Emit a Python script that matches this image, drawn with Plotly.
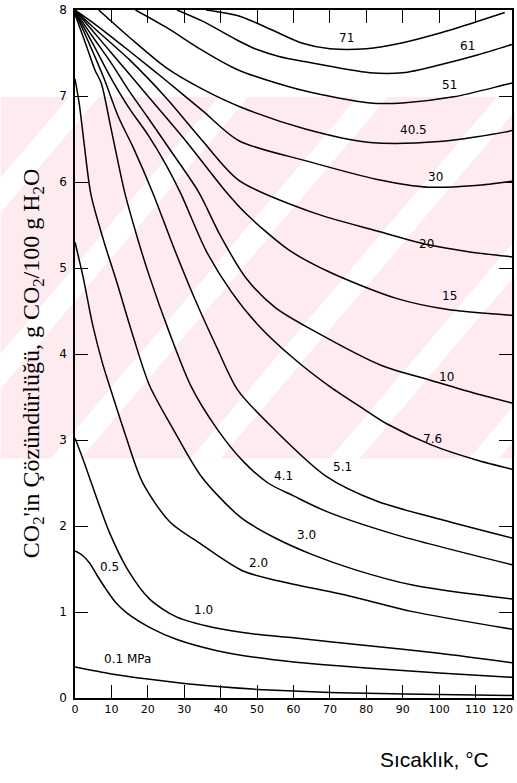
import plotly.graph_objects as go

# ---------------- data ----------------
x_ticks = [0, 10, 20, 30, 40, 50, 60, 70, 80, 90, 100, 110, 120]
y_ticks = [0, 1, 2, 3, 4, 5, 6, 7, 8]

t_01 = [0, 10, 20, 30, 40, 50, 60, 70, 80, 100, 120]
s_01 = [0.36, 0.28, 0.22, 0.17, 0.13, 0.10, 0.08, 0.065, 0.055, 0.04, 0.03]

t_05 = [0, 2, 4, 6, 8.6, 11, 14.2, 21, 28, 39, 50, 60, 80, 100, 120]
s_05 = [1.71, 1.66, 1.57, 1.43, 1.26, 1.12, 0.99, 0.81, 0.68, 0.55, 0.47, 0.42, 0.35, 0.29, 0.24]

t_10 = [0, 2, 4.5, 7, 9.5, 14.5, 20.5, 28, 38, 50, 60, 80, 100, 120]
s_10 = [3.02, 2.80, 2.50, 2.20, 1.92, 1.49, 1.15, 0.94, 0.82, 0.74, 0.70, 0.61, 0.52, 0.41]

t_20 = [0, 2.2, 4.9, 7.5, 10, 13.6, 18.5, 26, 34.6, 46, 56, 75, 92, 120]
s_20 = [5.30, 4.90, 4.33, 3.90, 3.56, 3.09, 2.51, 2.05, 1.79, 1.48, 1.36, 1.19, 1.01, 0.80]

t_30 = [0, 1.2, 2.5, 4.4, 8, 11.3, 16, 20.5, 27.3, 34.8, 45.5, 55, 65, 77, 93, 120]
s_30 = [7.20, 6.90, 6.45, 5.85, 5.30, 4.86, 4.20, 3.63, 3.10, 2.57, 2.10, 1.86, 1.67, 1.49, 1.31, 1.15]

t_41 = [0, 3, 5.5, 7.2, 10, 13.7, 17, 20.3, 26, 31.8, 39, 46, 53, 60, 69, 88, 120]
s_41 = [7.95, 7.60, 7.30, 7.15, 6.60, 5.87, 5.37, 4.92, 4.24, 3.63, 3.13, 2.76, 2.50, 2.35, 2.17, 1.90, 1.55]

t_51 = [0, 4, 8, 12, 16, 21.4, 27, 33, 39, 44.7, 54.8, 68.9, 82.8, 101, 120]
s_51 = [7.97, 7.60, 7.20, 6.75, 6.40, 5.87, 5.25, 4.63, 4.07, 3.58, 3.12, 2.58, 2.29, 2.07, 1.86]

t_76 = [0, 5, 10, 15, 20, 25, 29, 36, 43, 50, 60, 70, 80, 86, 98, 110, 120]
s_76 = [7.98, 7.60, 7.20, 6.85, 6.55, 6.20, 5.87, 5.20, 4.72, 4.35, 3.95, 3.62, 3.34, 3.18, 2.94, 2.77, 2.66]

t_100 = [0, 5, 10, 15, 20, 27, 34, 40, 47, 55, 66, 84, 98, 110, 120]
s_100 = [7.99, 7.68, 7.38, 7.05, 6.75, 6.32, 5.88, 5.37, 4.88, 4.54, 4.26, 3.87, 3.69, 3.54, 3.43]

t_150 = [0, 5, 10, 20, 30, 41.4, 47, 58.7, 70, 88, 102, 120]
s_150 = [8.0, 7.75, 7.50, 7.00, 6.50, 5.89, 5.63, 5.21, 4.95, 4.65, 4.52, 4.45]

t_200 = [0, 5, 15, 25, 35, 45, 65, 83, 97, 108, 120]
s_200 = [8.0, 7.80, 7.42, 6.98, 6.48, 6.02, 5.65, 5.43, 5.27, 5.19, 5.13]

t_300 = [0, 5, 15, 25, 35, 45, 64, 83, 97, 110, 120]
s_300 = [8.0, 7.85, 7.52, 7.18, 6.83, 6.48, 6.24, 6.03, 5.94, 5.96, 6.01]

t_405 = [6.5, 15, 25, 35, 45.6, 63, 81, 100, 118, 120]
s_405 = [8.0, 7.68, 7.33, 7.08, 6.87, 6.62, 6.46, 6.47, 6.58, 6.60]

t_510 = [16.6, 25, 35, 45, 63, 81, 90, 104, 118, 120]
s_510 = [8.0, 7.80, 7.53, 7.30, 7.06, 6.92, 6.92, 6.99, 7.13, 7.15]

t_610 = [28, 35, 45, 50, 56, 63, 81, 90, 100, 110, 120]
s_610 = [8.0, 7.87, 7.64, 7.54, 7.46, 7.40, 7.27, 7.27, 7.36, 7.47, 7.60]

t_710 = [36, 45, 54, 62, 70, 80, 90, 100, 110, 118]
s_710 = [8.0, 7.93, 7.77, 7.62, 7.55, 7.55, 7.62, 7.73, 7.86, 7.97]

# curve labels: text, temperature, solubility
label_text = ["71", "61", "51", "40.5", "30", "20", "15", "10", "7.6",
              "5.1", "4.1", "3.0", "2.0", "1.0", "0.5", "0.1 MPa"]
label_t = [74.5, 107.9, 102.7, 93, 98.9, 96.5, 102.8, 102, 98.3,
           73.5, 57.2, 63.7, 50.3, 35.2, 9.4, 14.4]
label_s = [7.67, 7.58, 7.13, 6.60, 6.06, 5.28, 4.67, 3.73, 3.01,
           2.69, 2.58, 1.90, 1.57, 1.02, 1.52, 0.45]

curves = [(t_01, s_01), (t_05, s_05), (t_10, s_10), (t_20, s_20), (t_30, s_30),
          (t_41, s_41), (t_51, s_51), (t_76, s_76), (t_100, s_100), (t_150, s_150),
          (t_200, s_200), (t_300, s_300), (t_405, s_405), (t_510, s_510),
          (t_610, s_610), (t_710, s_710)]

# ---------------- figure ----------------
W, H = 517, 783
ML, MR, MT, MB = 75, 3, 8, 85
PW, PH = W - ML - MR, H - MT - MB


def pp(px, py):
    """pixel -> paper coordinates"""
    return (px - ML) / PW, (H - MB - py) / PH


fig = go.Figure()

for t, s in curves:
    fig.add_trace(go.Scatter(x=t, y=s, mode="lines",
                             line=dict(color="black", width=1.5, shape="spline", smoothing=0.8),
                             hoverinfo="skip", showlegend=False))

annotations = []
for txt, xt, ys in zip(label_text, label_t, label_s):
    annotations.append(dict(x=xt, y=ys, xref="x", yref="y", text=txt, showarrow=False,
                            font=dict(family="DejaVu Sans", size=12, color="black")))

# last x tick label (kept inside the page)
annotations.append(dict(x=x_ticks[-1], y=0, xref="x", yref="y", text=str(x_ticks[-1]),
                        showarrow=False, xanchor="right", yanchor="top", yshift=-3, xshift=3,
                        font=dict(family="DejaVu Sans", size=11, color="black")))

ax, ay = pp(33, 362)
annotations.append(dict(x=ax, y=ay, xref="paper", yref="paper", textangle=-90,
                        text="CO<sub>2</sub>'in Çözündürlüğü, g CO<sub>2</sub>/100 g H<sub>2</sub>O",
                        showarrow=False, xanchor="center", yanchor="middle",
                        font=dict(family="Liberation Serif", size=24, color="black")))
bx, by = pp(436, 760)
annotations.append(dict(x=bx, y=by, xref="paper", yref="paper", text="Sıcaklık, °C",
                        showarrow=False, xanchor="center", yanchor="middle",
                        font=dict(family="Liberation Sans Narrow, Liberation Sans", size=21,
                                  color="black")))

# pale pink watermark behind the chart
shapes = []
x0p, y0p = pp(0, 95)
x1p, y1p = pp(517, 458)
shapes.append(dict(type="rect", xref="paper", yref="paper", x0=x0p, y0=y1p, x1=x1p, y1=y0p,
                   fillcolor="#fdebef", line=dict(width=0), layer="below"))
k = 0.85
for c in [150, 300, 440, 580, 720, 860]:
    pts = [(c - k * 95, 95), (c + 30 - k * 95, 95), (c + 30 - k * 458, 458), (c - k * 458, 458)]
    path = "M " + " L ".join("%.4f,%.4f" % pp(px, py) for px, py in pts) + " Z"
    shapes.append(dict(type="path", xref="paper", yref="paper", path=path,
                       fillcolor="white", line=dict(width=0), layer="below"))
for (ya, yb) in [(0, 95), (458, 783)]:
    xa, yap = pp(-10, ya)
    xb, ybp = pp(530, yb)
    shapes.append(dict(type="rect", xref="paper", yref="paper", x0=xa, y0=ybp, x1=xb, y1=yap,
                       fillcolor="white", line=dict(width=0), layer="below"))
for (xa_, xb_) in [(-20, 0), (517, 540)]:
    xa, ya = pp(xa_, 95)
    xb, yb = pp(xb_, 458)
    shapes.append(dict(type="rect", xref="paper", yref="paper", x0=xa, y0=yb, x1=xb, y1=ya,
                       fillcolor="white", line=dict(width=0), layer="below"))

axis_common = dict(showline=True, linecolor="black", linewidth=1.5, mirror="ticks",
                   ticks="inside", ticklen=13, tickwidth=1.3, tickcolor="black",
                   showgrid=False, zeroline=False)

fig.update_layout(
    width=W, height=H,
    margin=dict(l=ML, r=MR, t=MT, b=MB),
    paper_bgcolor="white", plot_bgcolor="rgba(0,0,0,0)",
    xaxis=dict(range=[0, 120], tickvals=x_ticks,
               ticktext=[str(v) for v in x_ticks[:-1]] + [""],
               tickfont=dict(family="DejaVu Sans", size=11, color="black"),
               **axis_common),
    yaxis=dict(range=[0, 8], tickvals=y_ticks, ticktext=[str(v) for v in y_ticks],
               ticklabelstandoff=4,
               tickfont=dict(family="DejaVu Sans", size=12, color="black"),
               **axis_common),
    annotations=annotations, shapes=shapes, showlegend=False,
)

fig.write_html("out.html")
